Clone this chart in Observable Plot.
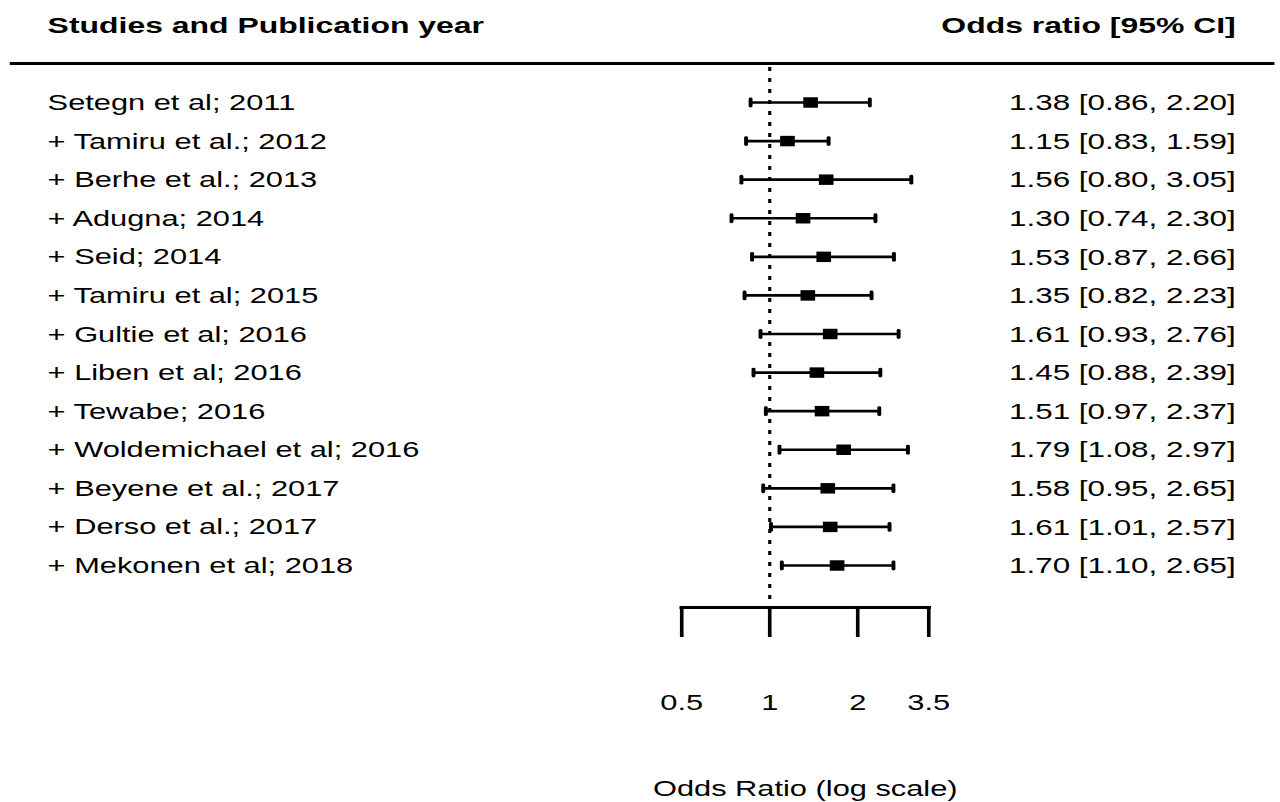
<!DOCTYPE html>
<html>
<head>
<meta charset="utf-8">
<script src="https://cdn.jsdelivr.net/npm/d3@7"></script>
<script src="https://cdn.jsdelivr.net/npm/@observablehq/plot@0.6"></script>
<style>
  html, body { margin: 0; padding: 0; background: #fff; overflow: hidden; }
  #wrap { position: relative; width: 914px; height: 802px; transform: scaleX(1.40044); transform-origin: 0 0; font-family: "Liberation Sans", Arial, sans-serif; }
  #rule { position: absolute; left: 7.1px; top: 62px; width: 903.3px; height: 3px; background: #000; }
  #wrap svg { position: absolute; left: 0; top: 0; }
</style>
</head>
<body>
<div id="wrap"><div id="rule"></div></div>
<script>
const studies = [
  "Setegn et al; 2011",
  "+ Tamiru et al.; 2012",
  "+ Berhe et al.; 2013",
  "+ Adugna; 2014",
  "+ Seid; 2014",
  "+ Tamiru et al; 2015",
  "+ Gultie et al; 2016",
  "+ Liben et al; 2016",
  "+ Tewabe; 2016",
  "+ Woldemichael et al; 2016",
  "+ Beyene et al.; 2017",
  "+ Derso et al.; 2017",
  "+ Mekonen et al; 2018"
];
const oddsRatio = [1.38, 1.15, 1.56, 1.30, 1.53, 1.35, 1.61, 1.45, 1.51, 1.79, 1.58, 1.61, 1.70];
const lower     = [0.86, 0.83, 0.80, 0.74, 0.87, 0.82, 0.93, 0.88, 0.97, 1.08, 0.95, 1.01, 1.10];
const upper     = [2.20, 1.59, 3.05, 2.30, 2.66, 2.23, 2.76, 2.39, 2.37, 2.97, 2.65, 2.57, 2.65];
const tickValues = [0.5, 1, 2, 3.5];
const headerLeft = "Studies and Publication year";
const headerRight = "Odds ratio [95% CI]";
const axisLabel = "Odds Ratio (log scale)";

const rows = studies.map((s, i) => ({
  study: s,
  or: oddsRatio[i],
  lo: lower[i],
  hi: upper[i],
  ci: `${oddsRatio[i].toFixed(2)} [${lower[i].toFixed(2)}, ${upper[i].toFixed(2)}]`
}));

// small vertical end-cap symbol for the CI whiskers
const capSymbol = {
  draw(ctx, size) {
    const h = Math.sqrt(size / Math.PI);
    ctx.moveTo(0, -h);
    ctx.lineTo(0, h);
  }
};

const font = "'Liberation Sans', Arial, sans-serif";
const fs = 22;

const chart = Plot.plot({
  width: 914,
  height: 802,
  marginLeft: 486.3,
  marginRight: 251.3,
  marginTop: 67,
  marginBottom: 195,
  style: { fontFamily: font, fontSize: fs + "px", color: "#000", background: "transparent", overflow: "visible" },
  x: { type: "log", domain: [0.5, 3.5] },
  y: { type: "point", domain: studies, range: [102, 565], padding: 0, round: false, axis: null },
  marks: [
    Plot.ruleX([1], { stroke: "#000", strokeWidth: 2.2, strokeDasharray: "4,7" }),
    Plot.frame({ anchor: "bottom", stroke: "#000", strokeWidth: 3.2 }),
    Plot.axisX({
      ticks: tickValues,
      tickFormat: d => String(d),
      tickSize: 30,
      tickPadding: 57,
      fontSize: fs,
      stroke: "#000",
      strokeWidth: 2.6,
      label: null
    }),
    Plot.ruleY(rows, { y: "study", x1: "lo", x2: "hi", stroke: "#000", strokeWidth: 2.6 }),
    Plot.dot(rows, { x: "lo", y: "study", symbol: capSymbol, r: 3.5, fill: "none", stroke: "#000", strokeWidth: 2.8, strokeLinecap: "round" }),
    Plot.dot(rows, { x: "hi", y: "study", symbol: capSymbol, r: 3.5, fill: "none", stroke: "#000", strokeWidth: 2.8, strokeLinecap: "round" }),
    Plot.dot(rows, { x: "or", y: "study", symbol: "square", r: 5.9, fill: "#000" }),
    Plot.text(rows, { y: "study", text: "study", frameAnchor: "left", textAnchor: "start", dx: -452.8, dy: 0.5, lineAnchor: "middle", fontSize: fs, fill: "#000" }),
    Plot.text(rows, { y: "study", text: "ci", frameAnchor: "right", textAnchor: "end", dx: 219.2, dy: 0.5, lineAnchor: "middle", fontSize: 22.4, fill: "#000" }),
    Plot.text([headerLeft], { text: d => d, frameAnchor: "top-left", textAnchor: "start", dx: -452.8, dy: -42, lineAnchor: "middle", fontSize: 22.8, fontWeight: "bold", fill: "#000" }),
    Plot.text([headerRight], { text: d => d, frameAnchor: "top-right", textAnchor: "end", dx: 219.2, dy: -42, lineAnchor: "middle", fontSize: 22.8, fontWeight: "bold", fill: "#000" }),
    Plot.text([axisLabel], { text: d => d, frameAnchor: "bottom", textAnchor: "middle", dy: 181, lineAnchor: "middle", fontSize: fs, fill: "#000" })
  ]
});
document.getElementById("wrap").appendChild(chart);
</script>
</body>
</html>
